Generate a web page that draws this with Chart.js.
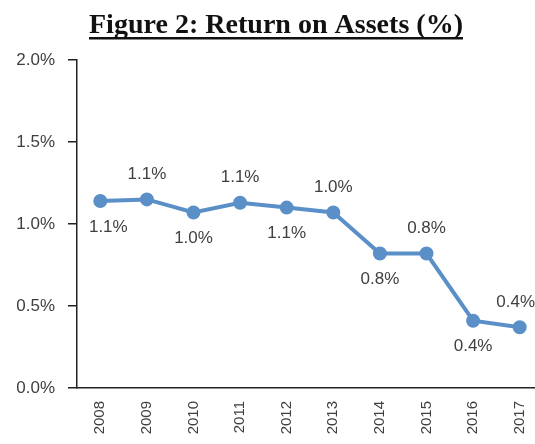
<!DOCTYPE html>
<html>
<head>
<meta charset="utf-8">
<script src="https://cdn.jsdelivr.net/npm/chart.js@4"></script>
<style>
  html, body { margin: 0; padding: 0; background: #fff; overflow: hidden; }
  #wrap { width: 552px; height: 444px; }
</style>
</head>
<body>
<div id="wrap"><canvas id="roaChart"></canvas></div>
<script>
const years = ["2008", "2009", "2010", "2011", "2012", "2013", "2014", "2015", "2016", "2017"];
const roa = [1.14, 1.15, 1.07, 1.13, 1.10, 1.07, 0.82, 0.82, 0.41, 0.37];
const roaLabels = ["1.1%", "1.1%", "1.0%", "1.1%", "1.1%", "1.0%", "0.8%", "0.8%", "0.4%", "0.4%"];
const yTicks = [0, 0.5, 1.0, 1.5, 2.0];
const chartTitle = "Figure 2: Return on Assets (%)";

// underlined serif title at the top
const titlePlugin = {
  id: "underlinedTitle",
  afterDraw(chart) {
    const ctx = chart.ctx;
    ctx.save();
    ctx.font = "bold 27px 'Liberation Serif', 'Times New Roman', serif";
    ctx.fillStyle = "#111";
    ctx.textAlign = "center";
    ctx.textBaseline = "alphabetic";
    const cx = 276, base = 33;
    const w = ctx.measureText(chartTitle).width;
    const sx = 374 / w;
    ctx.translate(cx, 0);
    ctx.scale(sx, 1);
    ctx.fillText(chartTitle, 0, base);
    ctx.fillRect(-w / 2, base + 4, w, 2.5);
    ctx.restore();
  }
};

// value labels, alternating below / above the points
const labelPlugin = {
  id: "pointLabels",
  afterDatasetsDraw(chart) {
    const ctx = chart.ctx;
    const meta = chart.getDatasetMeta(0);
    ctx.save();
    ctx.font = "17px 'Liberation Sans', Arial, sans-serif";
    ctx.fillStyle = "#404040";
    ctx.textAlign = "center";
    ctx.textBaseline = "middle";
    meta.data.forEach((pt, i) => {
      const dy = i % 2 === 0 ? 26 : -25;
      const dx = i === 0 ? 8 : (i === 9 ? -4 : 0);
      ctx.fillText(roaLabels[i], pt.x + dx, pt.y + dy);
    });
    ctx.restore();
  }
};

const ctx = document.getElementById("roaChart").getContext("2d");
new Chart(ctx, {
  type: "line",
  data: {
    labels: years,
    datasets: [{
      data: roa,
      borderColor: "#5b8fc7",
      backgroundColor: "#5b8fc7",
      borderWidth: 4,
      pointRadius: 5,
      pointHoverRadius: 5,
      tension: 0
    }]
  },
  options: {
    responsive: true,
    maintainAspectRatio: false,
    animation: false,
    layout: { padding: { top: 60, right: 3, left: 0, bottom: 0 } },
    plugins: { legend: { display: false }, tooltip: { enabled: false } },
    scales: {
      x: {
        offset: true,
        grid: { drawOnChartArea: false, drawTicks: false },
        border: { color: "#222", width: 1.5 },
        ticks: {
          minRotation: 90, maxRotation: 90, padding: 13,
          color: "#404040",
          font: { family: "'Liberation Sans', Arial, sans-serif", size: 15 }
        },
        afterFit(scale) { scale.height = 56; }
      },
      y: {
        min: 0, max: 2,
        afterBuildTicks(scale) { scale.ticks = yTicks.map(v => ({ value: v })); },
        grid: { drawOnChartArea: false, drawTicks: true, tickLength: 9, color: "#222", lineWidth: 1.5 },
        border: { color: "#222", width: 1.5 },
        ticks: {
          padding: 13,
          color: "#404040",
          font: { family: "'Liberation Sans', Arial, sans-serif", size: 17 },
          callback: v => v.toFixed(1) + "%"
        },
        afterFit(scale) { scale.width = 77; }
      }
    }
  },
  plugins: [titlePlugin, labelPlugin]
});
</script>
</body>
</html>
